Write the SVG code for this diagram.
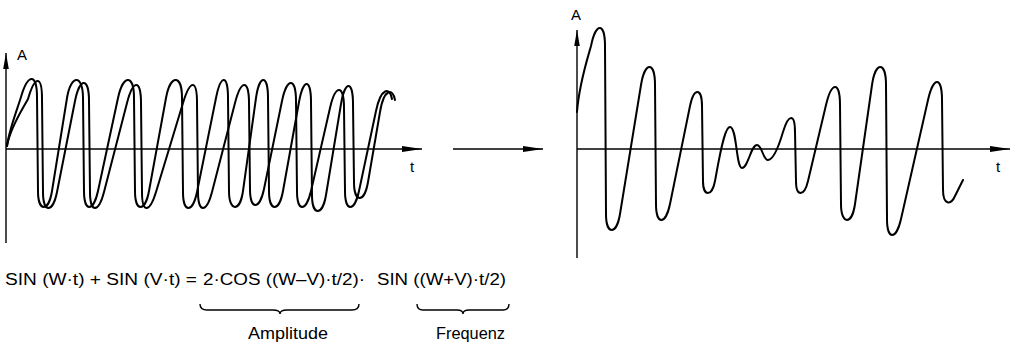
<svg xmlns="http://www.w3.org/2000/svg" width="1017" height="346" viewBox="0 0 1017 346">
<style>
.axis{stroke:#000;stroke-width:1.4;fill:none}
.wave{stroke:#000;stroke-width:2;fill:none;stroke-linecap:round;stroke-linejoin:round}
.brace{stroke:#000;stroke-width:1.4;fill:none}
.lbl{font-family:"Liberation Sans","DejaVu Sans",sans-serif;font-size:15px;fill:#000}
.eq{font-family:"Liberation Sans","DejaVu Sans",sans-serif;font-size:16px;fill:#000}
.cap{font-family:"Liberation Sans","DejaVu Sans",sans-serif;font-size:17px;fill:#000}
</style>
<defs>
<marker id="ah" markerUnits="userSpaceOnUse" markerWidth="22" markerHeight="8" refX="20" refY="4" orient="auto">
<path d="M0,1 L20,4 L0,7 Z" fill="#000"/>
</marker>
<marker id="ahv" markerUnits="userSpaceOnUse" markerWidth="18" markerHeight="8" refX="16" refY="4" orient="auto">
<path d="M0,1.2 L16,4 L0,6.8 Z" fill="#000"/>
</marker>
</defs>

<g id="left-graph">
<line class="axis" x1="6" y1="243" x2="6" y2="53" marker-end="url(#ahv)"/>
<line class="axis" x1="6" y1="149" x2="422" y2="149" marker-end="url(#ah)"/>
<text class="lbl" x="17" y="60">A</text>
<text class="lbl" x="410" y="172">t</text>
<path class="wave" d="M7,146 C9,130 17,110 21,97 C28,73 37,73 37,97 L38,191 C38,212.3 48.6,212.3 52,191 L67,98 C70.9,74 83,74 83,98 L84,191 C84,212.3 93.4,212.3 98,191 L118,98 C123.2,74 134,74 134,98 L135,191 C135,212.3 145.1,212.3 149,191 L166,98 C170.4,74 182,74 182,98 L183,192 C183,213.3 192.7,213.3 197,192 L216,98 C220.8,74 228,74 228,98 L229,191 C229,212.3 240,212.3 243,191 L256,98 C259.4,74 268,74 268,98 L269,191 C269,212.3 279.2,212.3 283,191 L299,102 C303.3,78 311,78 311,102 L312,195 C312,216.3 322.5,216.3 326,195 L341,104 C345,80 353,80 353,104 L354,182 C354,203.3 364.4,203.3 368,182 L380,112 C384,88 393,88 395,100"/>
<path class="wave" d="M7,146 C10,128 22,110 28,99 C35,75 42,75 42,99 L43,192 C43,213.3 52.8,213.3 57,192 L75,101 C79.8,77 89,77 89,101 L90,192 C90,213.3 98.5,213.3 104,192 L127,103 C133.2,79 141,79 141,103 L142,192 C142,213.3 149.5,213.3 156,192 L183,103 C190.3,79 197,79 197,103 L198,192 C198,213.3 206.5,213.3 212,192 L235,103 C241.2,79 249,79 249,103 L250,189 C250,210.3 259.6,210.3 264,189 L282,101 C286.9,77 296,77 296,101 L297,191 C297,212.3 306.1,212.3 311,191 L330,108 C335.5,84 344,84 344,108 L345,191 C345,212.3 354.5,212.3 359,191 L376,111 C381,87 390,87 392,99"/>
</g>

<g id="connectors">
<line class="axis" x1="453" y1="149" x2="543" y2="149" marker-end="url(#ah)"/>
</g>

<g id="right-graph">
<line class="axis" x1="577" y1="258" x2="577" y2="30" marker-end="url(#ahv)"/>
<line class="axis" x1="577" y1="149" x2="1010" y2="149" marker-end="url(#ah)"/>
<text class="lbl" x="571" y="20">A</text>
<text class="lbl" x="996" y="172">t</text>
<path class="wave" d="M577,112 C579,85 587,60 591,46 C595.8,22 605,22 605,46 L606,214 C606,235.3 616.5,235.3 620,214 L641,85 C644.9,61 655,61 655,85 L656,204 C656,225.3 665.6,225.3 670,204 L690,106 C693.8,87.3 702,87.3 702,106 L703,181 C703,197 712,197 715,181 C718.4,163 724,127 730,127 C737,127 736,168 742,168 C748,168 751,145 757,145 C762,145 763,160 768,160 C774,160 780,142 783,132 C788.6,113.3 795,113.3 795,132 L796,181 C796,197 804.2,197 808,181 L826,105 C831.7,81 840,81 840,105 L841,204 C841,225.3 852,225.3 855,204 L872,85 C875.4,61 886,61 886,85 L887,219 C887,240.3 896.2,240.3 901,219 L928,100 C933.4,76 942,76 942,100 L943,189 C943,206 951,205 955,196 L963,180"/>
</g>

<g id="formula">
<text class="eq" x="5" y="285" textLength="192" lengthAdjust="spacingAndGlyphs">SIN (W·t) + SIN (V·t) =</text>
<text class="eq" x="203" y="285" textLength="162" lengthAdjust="spacingAndGlyphs">2·COS ((W–V)·t/2)·</text>
<text class="eq" x="377" y="285" textLength="129" lengthAdjust="spacingAndGlyphs">SIN ((W+V)·t/2)</text>
<path class="brace" d="M200,304 Q200,310 207,310 L273,310 Q280,310 280,314 Q280,310 287,310 L352,310 Q359,310 359,304"/>
<path class="brace" d="M417,304 Q417,310 423,310 L457,310 Q463,310 463,314 Q463,310 469,310 L503,310 Q509,310 509,304"/>
<text class="cap" x="248" y="339" textLength="80" lengthAdjust="spacingAndGlyphs">Amplitude</text>
<text class="cap" x="436" y="339" textLength="69" lengthAdjust="spacingAndGlyphs">Frequenz</text>
</g>
</svg>
